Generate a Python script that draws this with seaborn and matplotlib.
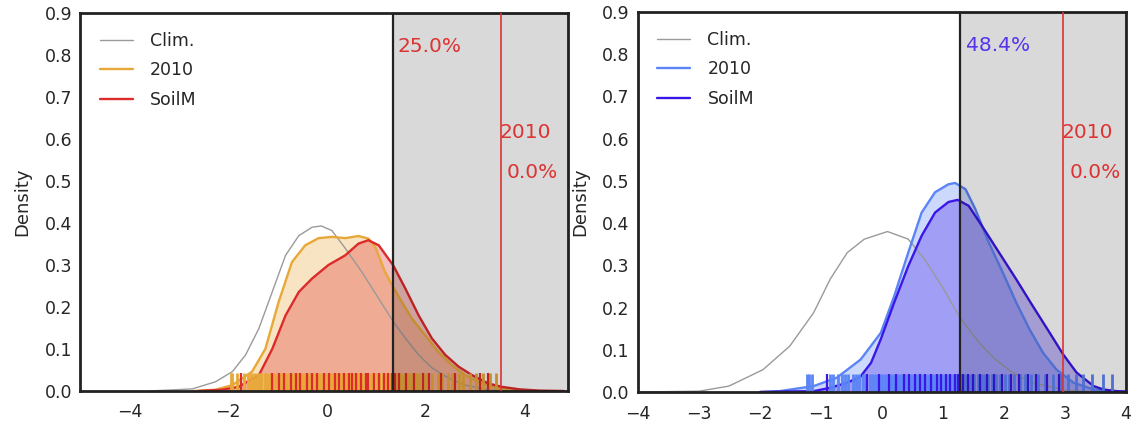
import numpy as np
import pandas as pd
import seaborn as sns
import matplotlib.pyplot as plt

# ---- data ----
legend_labels = ["Clim.", "2010", "SoilM"]

# left panel: density curves (x, density)
L_clim_x = [-3.6, -2.73, -2.26, -1.92, -1.65, -1.38, -1.11, -0.84, -0.57, -0.30, -0.115, 0.10, 0.37, 0.71,
            1.05, 1.34, 1.59, 1.86, 2.13, 2.46, 2.80, 3.27, 3.8]
L_clim_y = [0.0, 0.005, 0.022, 0.046, 0.086, 0.149, 0.236, 0.323, 0.37, 0.39, 0.393, 0.382, 0.34, 0.283,
            0.22, 0.166, 0.126, 0.086, 0.055, 0.031, 0.014, 0.003, 0.0]
L_y10_x = [-2.7, -2.26, -1.92, -1.52, -1.25, -0.98, -0.71, -0.44, -0.17, 0.10, 0.37, 0.64, 0.84, 0.98,
           1.18, 1.34, 1.52, 1.72, 1.99, 2.26, 2.53, 2.80, 3.14, 3.48, 4.0]
L_y10_y = [0.0, 0.003, 0.014, 0.046, 0.10, 0.212, 0.307, 0.347, 0.364, 0.367, 0.364, 0.369, 0.363, 0.343,
           0.283, 0.248, 0.212, 0.173, 0.133, 0.093, 0.062, 0.038, 0.018, 0.006, 0.0]
L_soil_x = [-2.6, -2.13, -1.79, -1.38, -1.11, -0.84, -0.57, -0.30, 0.03, 0.37, 0.64, 0.84, 1.05, 1.34,
            1.59, 1.86, 2.13, 2.40, 2.67, 2.94, 3.27, 3.54, 3.9, 4.3, 4.8]
L_soil_y = [0.0, 0.003, 0.010, 0.038, 0.10, 0.18, 0.236, 0.268, 0.30, 0.323, 0.351, 0.359, 0.347, 0.30,
            0.244, 0.18, 0.125, 0.086, 0.058, 0.038, 0.018, 0.010, 0.004, 0.001, 0.0]

# right panel
R_clim_x = [-4.0, -3.0, -2.51, -1.95, -1.51, -1.12, -0.85, -0.57, -0.29, 0.09, 0.43, 0.70, 0.98, 1.28,
            1.59, 1.86, 2.14, 2.47, 3.03, 3.6]
R_clim_y = [0.0, 0.002, 0.014, 0.053, 0.109, 0.188, 0.267, 0.330, 0.362, 0.380, 0.362, 0.314, 0.251,
            0.176, 0.117, 0.077, 0.046, 0.022, 0.004, 0.0]
R_y10_x = [-2.0, -1.68, -1.12, -0.74, -0.35, -0.02, 0.20, 0.43, 0.65, 0.87, 1.09, 1.20, 1.37, 1.53,
           1.75, 1.98, 2.20, 2.42, 2.64, 2.86, 3.14, 3.47, 3.8, 4.0]
R_y10_y = [0.0, 0.002, 0.014, 0.034, 0.077, 0.14, 0.227, 0.330, 0.425, 0.473, 0.492, 0.495, 0.48, 0.433,
           0.354, 0.283, 0.212, 0.148, 0.093, 0.053, 0.022, 0.006, 0.002, 0.001]
R_soil_x = [-2.0, -1.68, -1.12, -0.85, -0.57, -0.35, -0.18, -0.02, 0.20, 0.43, 0.65, 0.87, 1.09, 1.24,
            1.42, 1.64, 1.92, 2.20, 2.47, 2.75, 2.97, 3.19, 3.47, 3.63, 3.85, 4.0]
R_soil_y = [0.0, 0.001, 0.002, 0.010, 0.022, 0.037, 0.069, 0.125, 0.212, 0.298, 0.370, 0.425, 0.450,
            0.455, 0.441, 0.393, 0.330, 0.267, 0.204, 0.14, 0.089, 0.046, 0.014, 0.006, 0.002, 0.001]

# rug samples
L_y10_rug = [-1.95, -1.92, -1.82, -1.68, -1.6, -1.55, -1.47, -1.42, -1.37, -1.33, -1.26, -1.22, -1.16,
             -1.12, -1.05, -1.0, -0.96, -0.9, -0.85, -0.81, -0.75, -0.71, -0.67, -0.6, -0.57, -0.51,
             -0.47, -0.43, -0.37, -0.32, -0.28, -0.22, -0.18, -0.14, -0.08, -0.04, 0.02, 0.06, 0.11,
             0.17, 0.21, 0.25, 0.31, 0.36, 0.4, 0.46, 0.52, 0.56, 0.6, 0.66, 0.72, 0.77, 0.82, 0.89,
             0.94, 1.01, 1.06, 1.14, 1.2, 1.26, 1.34, 1.4, 1.49, 1.55, 1.64, 1.71, 1.8, 1.87, 1.98,
             2.05, 2.14, 2.25, 2.33, 2.45, 2.54, 2.67, 2.77, 2.91, 3.03, 3.16, 3.3, 3.43]
L_soil_rug = [-1.75, -1.11, -0.98, -0.88, -0.72, -0.62, -0.54, -0.41, -0.3, -0.2, -0.07, 0.05, 0.16,
              0.24, 0.34, 0.44, 0.51, 0.59, 0.7, 0.79, 0.84, 0.95, 1.06, 1.16, 1.24, 1.31, 1.38,
              1.47, 1.61, 1.77, 1.95, 2.07, 2.31, 2.6, 3.1, 3.27]
R_y10_rug = [-1.23, -1.2, -1.15, -0.85, -0.8, -0.72, -0.66, -0.6, -0.55, -0.48, -0.42, -0.37, -0.31,
             -0.26, -0.2, -0.15, -0.1, -0.05, 0.0, 0.05, 0.1, 0.14, 0.19, 0.24, 0.28, 0.33, 0.38,
             0.42, 0.47, 0.52, 0.56, 0.61, 0.66, 0.7, 0.75, 0.8, 0.84, 0.89, 0.94, 0.98, 1.03, 1.08,
             1.12, 1.17, 1.22, 1.27, 1.31, 1.36, 1.41, 1.46, 1.51, 1.57, 1.62, 1.68, 1.74, 1.8, 1.87,
             1.94, 2.01, 2.09, 2.17, 2.26, 2.35, 2.45, 2.56, 2.68, 2.8, 2.93, 3.05, 3.18, 3.3, 3.45,
             3.62, 3.77]
R_soil_rug = [-0.9, -0.24, -0.05, 0.12, 0.23, 0.36, 0.45, 0.54, 0.63, 0.71, 0.8, 0.9, 0.97, 1.05,
              1.12, 1.2, 1.25, 1.33, 1.41, 1.5, 1.6, 1.72, 1.83, 1.97, 2.12, 2.25, 2.4, 2.52, 2.7,
              2.9]

# thresholds and annotations
L_thresh, L_year = 1.33, 3.54
R_thresh, R_year = 1.28, 2.97
L_pct, R_pct = "25.0%", "48.4%"
year_label, year_pct = "2010", "0.0%"

# ---- style ----
sns.set_style("white")
plt.rcParams['font.family'] = ['DejaVu Sans']

fig = plt.figure(figsize=(11.32, 4.29), dpi=100)
ax1 = fig.add_axes([0.0711, 0.0886, 0.4311, 0.881])
ax2 = fig.add_axes([0.5636, 0.0862, 0.4311, 0.886])


def panel(ax, curves, rugs, colors, thresh, year, pct, pct_color, xlim, xticks):
    (cx, cy), (ax10, ay10), (sx, sy) = curves
    sns.lineplot(x=cx, y=cy, ax=ax, color='#9a9a9a', lw=1.0, label=legend_labels[0], sort=False)
    sns.lineplot(x=ax10, y=ay10, ax=ax, color=colors[0], lw=1.7, label=legend_labels[1], sort=False)
    ax.fill_between(ax10, ay10, color=colors[0], alpha=0.3, lw=0)
    sns.lineplot(x=sx, y=sy, ax=ax, color=colors[1], lw=1.7, label=legend_labels[2], sort=False)
    ax.fill_between(sx, sy, color=colors[1], alpha=0.3, lw=0)
    sns.rugplot(x=rugs[0], ax=ax, color=colors[0], height=0.048, linewidth=2.0, alpha=1)
    sns.rugplot(x=rugs[1], ax=ax, color=colors[1], height=0.048, linewidth=1.6, alpha=1)

    ax.axvspan(thresh, xlim[1], color='k', alpha=0.15, lw=0, zorder=5)
    ax.axvline(thresh, color='#222222', lw=1.6, zorder=6)
    ax.axvline(year, color='#dd3333', lw=1.2, zorder=6)
    ax.text(thresh + 0.1, 0.82, pct, color=pct_color, fontsize=14.5, va='center', zorder=7)
    ax.text(year - 0.03, 0.615, year_label, color='#dd3333', fontsize=14.5, va='center', zorder=7)
    ax.text(year + 0.1, 0.52, year_pct, color='#dd3333', fontsize=14.5, va='center', zorder=7)

    ax.set_xlim(*xlim)
    ax.set_ylim(0, 0.9)
    ax.set_xticks(xticks)
    ax.set_yticks(np.arange(0, 0.91, 0.1))
    ax.set_yticklabels([f"{v:.1f}" for v in np.arange(0, 0.91, 0.1)])
    ax.tick_params(labelsize=12.5, length=0)
    ax.tick_params(axis='x', pad=9)
    ax.tick_params(axis='y', pad=6)
    ax.set_ylabel("Density", fontsize=13)
    for s in ax.spines.values():
        s.set_color('#222222')
        s.set_linewidth(2)
    ax.legend(loc='upper left', frameon=False, fontsize=12.5, handlelength=1.9,
              handletextpad=1.0, labelspacing=0.65, borderaxespad=0.7)


panel(ax1, [(L_clim_x, L_clim_y), (L_y10_x, L_y10_y), (L_soil_x, L_soil_y)],
      [L_y10_rug, L_soil_rug], ['#e8a838', '#dd2a2a'], L_thresh, L_year,
      L_pct, '#dd3333', (-5, 4.9), [-4, -2, 0, 2, 4])
panel(ax2, [(R_clim_x, R_clim_y), (R_y10_x, R_y10_y), (R_soil_x, R_soil_y)],
      [R_y10_rug, R_soil_rug], ['#5b84f7', '#3a17e6'], R_thresh, R_year,
      R_pct, '#5533ee', (-4, 4), list(range(-4, 5)))
ax1.yaxis.set_label_coords(-0.1, 0.5)
ax2.yaxis.set_label_coords(-0.1, 0.5)

fig.savefig("out.png", dpi=100)
